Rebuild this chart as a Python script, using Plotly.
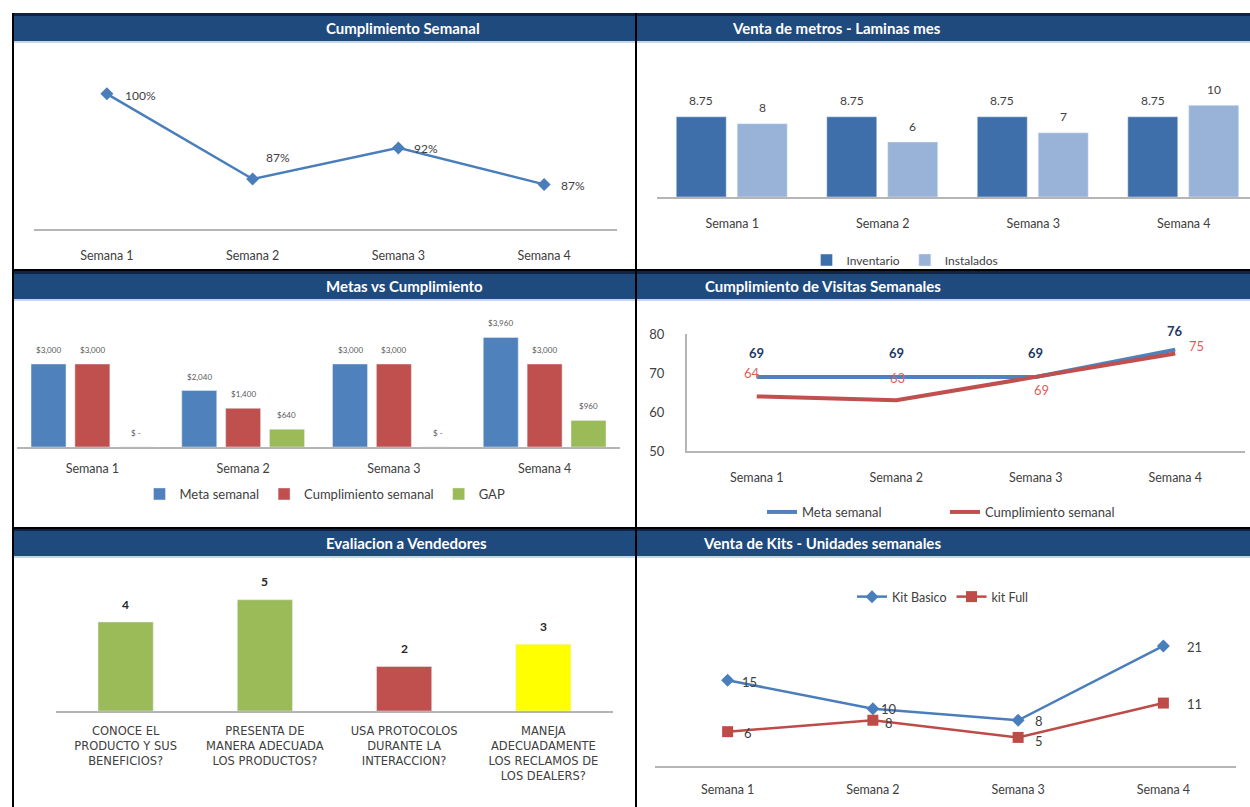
import plotly.graph_objects as go

# ---------------- data ----------------
semanas = ["Semana 1", "Semana 2", "Semana 3", "Semana 4"]

# Cumplimiento Semanal
cumplimiento_pct = [1.00, 0.874, 0.92, 0.866]

# Venta de metros - Laminas mes
inventario = [8.75, 8.75, 8.75, 8.75]
instalados = [8, 6, 7, 10]

# Metas vs Cumplimiento
meta_semanal = [3000, 2040, 3000, 3960]
cumplimiento_semanal = [3000, 1400, 3000, 3000]
gap_valores = [0, 640, 0, 960]

# Cumplimiento de Visitas Semanales
visitas_meta = [69, 69, 69, 76]
visitas_cumplimiento = [64, 63, 69, 75]

# Evaluacion a Vendedores
preguntas = [
    "CONOCE EL<br>PRODUCTO Y SUS<br>BENEFICIOS?",
    "PRESENTA DE<br>MANERA ADECUADA<br>LOS PRODUCTOS?",
    "USA PROTOCOLOS<br>DURANTE LA<br>INTERACCION?",
    "MANEJA<br>ADECUADAMENTE<br>LOS RECLAMOS DE<br>LOS DEALERS?",
]
evaluacion = [4, 5, 2, 3]

# Venta de Kits - Unidades semanales
kit_basico = [15, 10, 8, 21]
kit_full = [6, 8, 5, 11]

# ---------------- styling helpers ----------------
W, H = 1250, 807


def PX(p):
    return p / W


def PY(p):
    return 1 - p / H


FONT = "Lato, 'Open Sans', sans-serif"
TXT = "#404040"
AXC = "#B5B5B5"
NAVY = "#1F4A7E"

fig = go.Figure()
ann = []

# ---------- Panel 1: Cumplimiento Semanal ----------
fig.add_trace(go.Scatter(
    x=semanas, y=cumplimiento_pct, mode="lines+markers",
    line=dict(color="#4A7EBB", width=2.5),
    marker=dict(symbol="diamond", size=10, color="#4A7EBB"),
    xaxis="x", yaxis="y", showlegend=False, cliponaxis=False, hoverinfo="skip"))
p1_dx = [16, 11, 14, 15]
p1_dy = [-2, 21, -1, -1]
for j, v in enumerate(cumplimiento_pct):
    ann.append(dict(x=semanas[j], y=v, xref="x", yref="y", text=f"{v:.0%}",
                    showarrow=False, xanchor="left", xshift=p1_dx[j], yshift=p1_dy[j],
                    font=dict(size=12, color=TXT, family=FONT)))

# ---------- Panel 2: Venta de metros ----------
w2 = 0.332
offs2 = [-0.372, 0.033]
cols2 = ["#3F6FAA", "#98B2D8"]
for k, (name, vals) in enumerate([("Inventario", inventario), ("Instalados", instalados)]):
    fig.add_trace(go.Bar(x=semanas, y=vals, name=name, marker_color=cols2[k],
                         width=w2, offset=offs2[k], xaxis="x2", yaxis="y2",
                         legend="legend", hoverinfo="skip"))
    for j, v in enumerate(vals):
        ann.append(dict(x=j + offs2[k] + w2 / 2, y=v, xref="x2", yref="y2",
                        text=f"{v:g}", showarrow=False, yanchor="middle", yshift=16,
                        font=dict(size=12, color=TXT, family=FONT)))

# ---------- Panel 3: Metas vs Cumplimiento ----------
w3 = 0.232
offs3 = [-0.407, -0.116, 0.175]
cols3 = ["#4F81BD", "#C0504D", "#9BBB59"]
series3 = [("Meta semanal", meta_semanal), ("Cumplimiento semanal", cumplimiento_semanal),
           ("GAP", gap_valores)]
for k, (name, vals) in enumerate(series3):
    fig.add_trace(go.Bar(x=semanas, y=vals, name=name, marker_color=cols3[k],
                         width=w3, offset=offs3[k], xaxis="x3", yaxis="y3",
                         legend="legend2", hoverinfo="skip"))
    for j, v in enumerate(vals):
        ann.append(dict(x=j + offs3[k] + w3 / 2, y=v, xref="x3", yref="y3",
                        text=(f"${v:,.0f}" if v else "$ -"), showarrow=False,
                        yanchor="middle", yshift=14,
                        font=dict(size=8, color="#595959", family=FONT)))

# ---------- Panel 4: Cumplimiento de Visitas ----------
fig.add_trace(go.Scatter(x=semanas, y=visitas_meta, mode="lines", name="Meta semanal",
                         line=dict(color="#4F81BD", width=4), xaxis="x4", yaxis="y4",
                         legend="legend3", cliponaxis=False, hoverinfo="skip"))
fig.add_trace(go.Scatter(x=semanas, y=visitas_cumplimiento, mode="lines",
                         name="Cumplimiento semanal",
                         line=dict(color="#C0504D", width=4), xaxis="x4", yaxis="y4",
                         legend="legend3", cliponaxis=False, hoverinfo="skip"))
b_dy = [24, 24, 24, 19]
for j, v in enumerate(visitas_meta):
    ann.append(dict(x=semanas[j], y=v, xref="x4", yref="y4", text=f"<b>{v}</b>",
                    showarrow=False, yshift=b_dy[j],
                    font=dict(size=13, color="#1F3864", family=FONT)))
r_dx = [-5, 1, 6, 21]
r_dy = [23, 22, -13, 7]
for j, v in enumerate(visitas_cumplimiento):
    ann.append(dict(x=semanas[j], y=v, xref="x4", yref="y4", text=f"{v}",
                    showarrow=False, xshift=r_dx[j], yshift=r_dy[j],
                    font=dict(size=13, color="#DE5F5A", family=FONT)))

# ---------- Panel 5: Evaluacion a Vendedores ----------
w5 = 0.396
fig.add_trace(go.Bar(x=preguntas, y=evaluacion,
                     marker_color=["#9BBB59", "#9BBB59", "#C0504D", "#FFFF00"],
                     width=w5, offset=-w5 / 2, xaxis="x5", yaxis="y5",
                     showlegend=False, hoverinfo="skip"))
for j, v in enumerate(evaluacion):
    ann.append(dict(x=j, y=v, xref="x5", yref="y5", text=f"<b>{v}</b>",
                    showarrow=False, yanchor="middle", yshift=18,
                    font=dict(size=12, color="#262626", family=FONT)))

# ---------- Panel 6: Venta de Kits ----------
fig.add_trace(go.Scatter(x=semanas, y=kit_basico, mode="lines+markers", name="Kit Basico",
                         line=dict(color="#4A7EBB", width=2.5),
                         marker=dict(symbol="diamond", size=10, color="#4A7EBB"),
                         xaxis="x6", yaxis="y6", legend="legend4", cliponaxis=False,
                         hoverinfo="skip"))
fig.add_trace(go.Scatter(x=semanas, y=kit_full, mode="lines+markers", name="kit Full",
                         line=dict(color="#BE4B48", width=2.5),
                         marker=dict(symbol="square", size=11, color="#BE4B48"),
                         xaxis="x6", yaxis="y6", legend="legend4", cliponaxis=False,
                         hoverinfo="skip"))
kb_dx = [12, 6, 15, 22]
kb_dy = [-2, 0, -1, -1]
for j, v in enumerate(kit_basico):
    ann.append(dict(x=semanas[j], y=v, xref="x6", yref="y6", text=f"{v}", showarrow=False,
                    xanchor="left", xshift=kb_dx[j], yshift=kb_dy[j],
                    font=dict(size=13, color=TXT, family=FONT)))
kf_dx = [14, 10, 15, 22]
kf_dy = [-1, -3, -4, -1]
for j, v in enumerate(kit_full):
    ann.append(dict(x=semanas[j], y=v, xref="x6", yref="y6", text=f"{v}", showarrow=False,
                    xanchor="left", xshift=kf_dx[j], yshift=kf_dy[j],
                    font=dict(size=13, color=TXT, family=FONT)))

# ---------- headers, frames ----------
shapes = []
headers = [
    (12, 636, 13, 41, "Cumplimiento Semanal"),
    (636, 1250, 13, 41, "Venta de metros - Laminas mes"),
    (12, 636, 271, 299, "Metas vs Cumplimiento"),
    (636, 1250, 271, 299, "Cumplimiento de Visitas Semanales"),
    (12, 636, 528, 556, "Evaliacion a Vendedores"),
    (636, 1250, 528, 556, "Venta de Kits - Unidades semanales"),
]
for x0, x1, y0, y1, title in headers:
    shapes.append(dict(type="rect", xref="paper", yref="paper", x0=PX(x0), x1=PX(x1),
                       y0=PY(y1), y1=PY(y0), fillcolor=NAVY, line=dict(width=0), layer="below"))
    shapes.append(dict(type="rect", xref="paper", yref="paper", x0=PX(x0), x1=PX(x1),
                       y0=PY(y0 + 3), y1=PY(y0), fillcolor="#0F2444", line=dict(width=0),
                       layer="below"))
    shapes.append(dict(type="rect", xref="paper", yref="paper", x0=PX(x0), x1=PX(x1),
                       y0=PY(y1 + 2), y1=PY(y1), fillcolor="#C6D6EA", line=dict(width=0),
                       layer="below"))
    ann.append(dict(x=PX((x0 + x1) / 2), y=PY((y0 + y1) / 2 + 1), xref="paper", yref="paper",
                    text=f"<b>{title}</b>", showarrow=False, yanchor="middle",
                    font=dict(size=15, color="white", family=FONT)))

for (x0, y0, x1, y1) in [(13, 13, 13, 807), (636, 13, 636, 807),
                         (12, 270, 1250, 270), (12, 528, 1250, 528)]:
    shapes.append(dict(type="line", xref="paper", yref="paper", x0=PX(x0), x1=PX(x1),
                       y0=PY(y0), y1=PY(y1), line=dict(color="black", width=2)))


def xax(d0, d1, anchor, rng, standoff, size=12.5, family=FONT):
    return dict(domain=[PX(d0), PX(d1)], anchor=anchor, range=rng, type="category",
                showline=True, linecolor=AXC, linewidth=2, showgrid=False, zeroline=False,
                ticks="", ticklabelstandoff=standoff, fixedrange=True, automargin=False,
                tickfont=dict(size=size, color=TXT, family=family))


def yax(top, bottom, anchor, rng):
    return dict(domain=[PY(bottom), PY(top)], anchor=anchor, range=rng, showline=False,
                showgrid=False, zeroline=False, showticklabels=False, ticks="",
                fixedrange=True, automargin=False)


layout = dict(
    width=W, height=H, autosize=False, margin=dict(l=0, r=0, t=0, b=0, pad=0),
    paper_bgcolor="white", plot_bgcolor="rgba(0,0,0,0)",
    font=dict(family=FONT, color=TXT),
    barmode="group",
    xaxis=xax(34, 617, "y", [-0.5, 3.5], 14),
    yaxis=yax(60, 229, "x", [0.80, 1.05]),
    xaxis2=xax(657, 1250, "y2", [-0.5, 3.44], 14),
    yaxis2=yax(87, 197, "x2", [0, 12]),
    xaxis3=xax(17, 620, "y3", [-0.5, 3.5], 9),
    yaxis3=yax(322.5, 447, "x3", [0, 4500]),
    xaxis4=xax(687, 1245, "y4", [-0.5, 3.5], 14),
    yaxis4=dict(domain=[PY(451), PY(334)], anchor="x4", range=[50, 80],
                tickvals=[50, 60, 70, 80], showline=True, linecolor=AXC, linewidth=2,
                showgrid=False, zeroline=False, ticks="", ticklabelstandoff=18,
                automargin=False,
                tickfont=dict(size=13, color=TXT, family=FONT), fixedrange=True),
    xaxis5=xax(56, 613, "y5", [-0.5, 3.5], 8, size=11.5, family="'DejaVu Sans', sans-serif"),
    yaxis5=yax(577.5, 711, "x5", [0, 6]),
    xaxis6=xax(655, 1236, "y6", [-0.5, 3.5], 11),
    yaxis6=yax(623, 766, "x6", [0, 25]),
    legend=dict(orientation="h", x=PX(905), y=PY(260), xanchor="center", yanchor="middle",
                font=dict(size=12, color=TXT, family=FONT), bgcolor="rgba(0,0,0,0)"),
    legend2=dict(orientation="h", x=PX(325), y=PY(494), xanchor="center", yanchor="middle",
                 font=dict(size=13, color=TXT, family=FONT), bgcolor="rgba(0,0,0,0)"),
    legend3=dict(orientation="h", x=PX(945), y=PY(512), xanchor="center", yanchor="middle",
                 entrywidth=138,
                 font=dict(size=13, color=TXT, family=FONT), bgcolor="rgba(0,0,0,0)"),
    legend4=dict(orientation="h", x=PX(943), y=PY(597), xanchor="center", yanchor="middle",
                 font=dict(size=12.5, color=TXT, family=FONT), bgcolor="rgba(0,0,0,0)"),
    shapes=shapes,
    annotations=ann,
)
fig.update_layout(**layout)

fig.write_html("out.html", config={"displayModeBar": False},
               post_script="document.body.style.margin='0';document.body.style.overflow='hidden';")
